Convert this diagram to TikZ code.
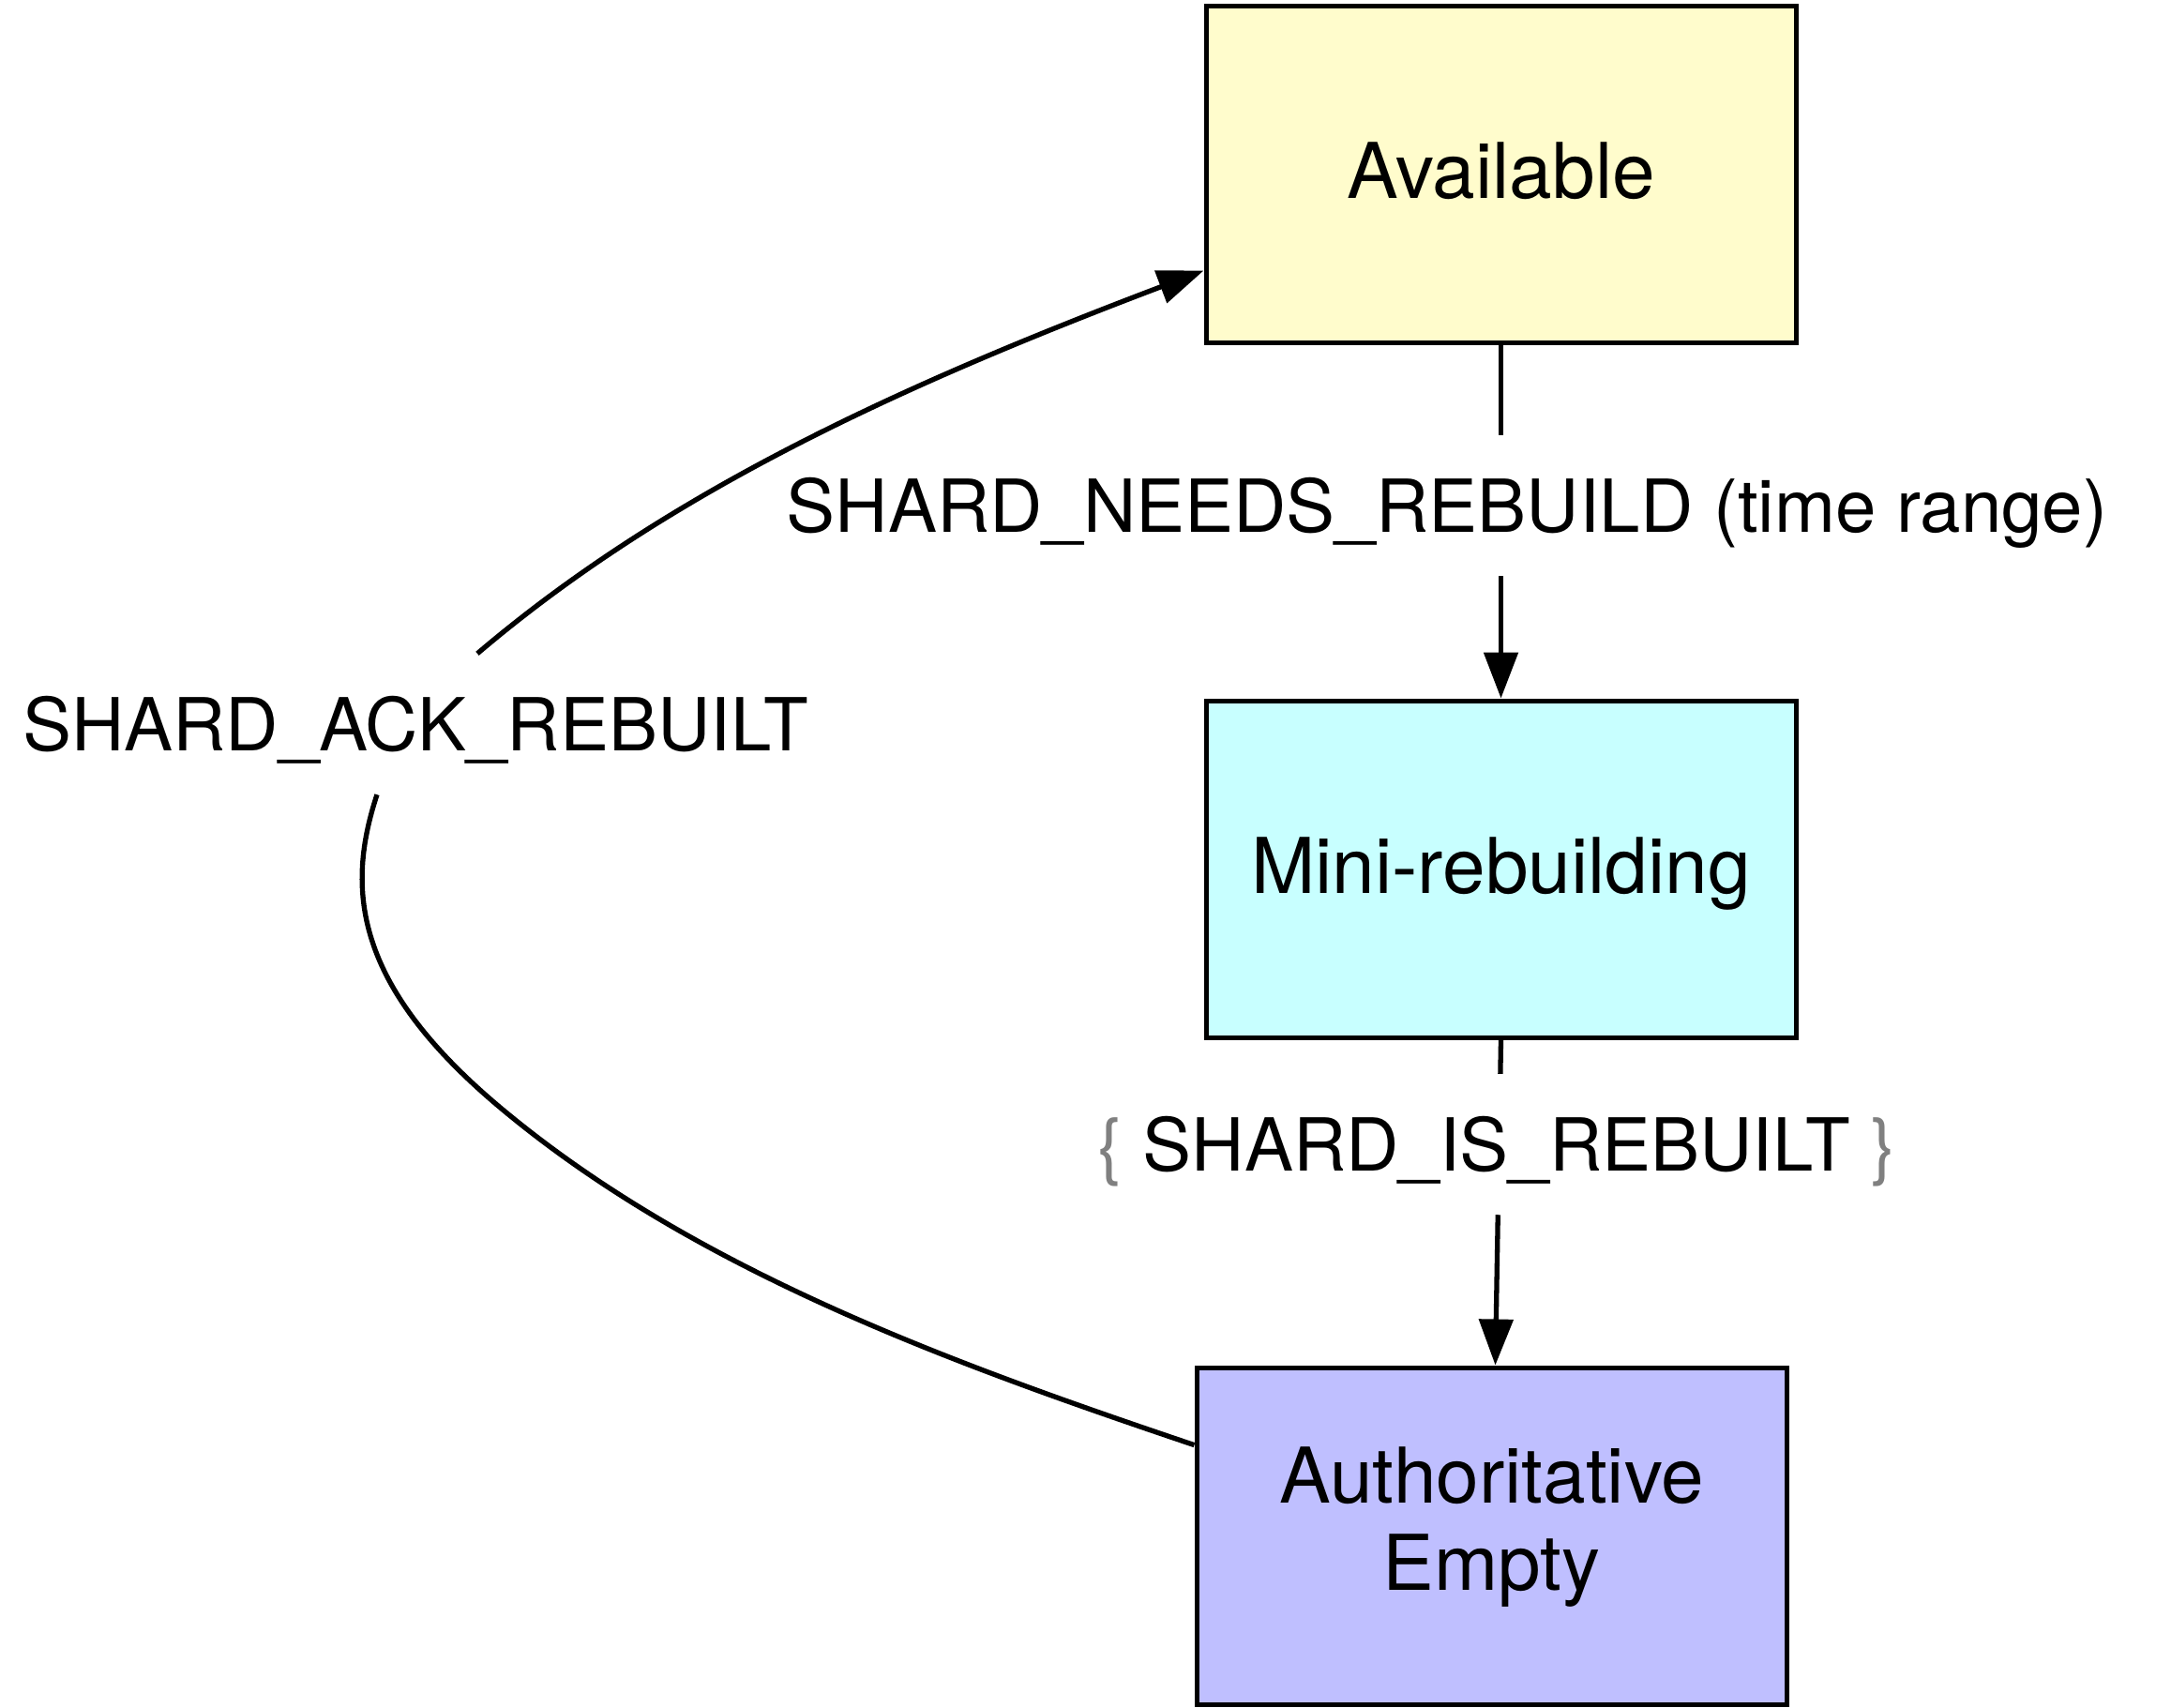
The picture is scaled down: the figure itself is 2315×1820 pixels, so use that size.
\documentclass[tikz,border=0pt]{standalone}
\usepackage{fontspec}
\setmainfont{TeX Gyre Heros}
\usetikzlibrary{arrows.meta,calc}
\definecolor{availfill}{RGB}{255,252,204}
\definecolor{minifill}{RGB}{200,255,255}
\definecolor{authfill}{RGB}{191,191,255}
\definecolor{bracegray}{RGB}{128,128,128}
\begin{document}
\begin{tikzpicture}[x=1pt,y=-1pt,
  state/.style={draw=black, line width=5pt, minimum width=629pt, minimum height=359pt,
    inner sep=0pt, align=center, text height=56pt, text depth=4pt,
    font=\fontsize{82}{93}\selectfont},
  lbl/.style={inner sep=0pt, minimum height=150pt, text height=56pt, text depth=0pt,
    font=\fontsize{78}{93}\selectfont},
  edge/.style={line width=5.3pt},
  arr/.style={-{Triangle[length=49pt,width=36pt]}}]
\useasboundingbox (0,0) rectangle (2315,1820);

\node[state, fill=availfill] (avail) at (1600.5,185.5) {Available};
\node[state, fill=minifill] (mini) at (1600.5,926.5) {Mini-rebuilding};
\node[state, fill=authfill, text height=149pt, text depth=34pt] (auth) at (1590.5,1637.5) {Authoritative\\Empty};

\node[lbl] (needs) at (1543,539) {SHARD\_NEEDS\_REBUILD (time range)};
\node[lbl] (isreb) at (1596,1220) {{\color{bracegray}\{} SHARD\_IS\_REBUILT {\color{bracegray}\}}};
\node[lbl] (ack) at (443,772) {SHARD\_ACK\_REBUILT};

% Available -> Mini-rebuilding
\draw[edge] (avail.south) -- ($(avail.south)!(needs.north)!(mini.north)$);
\draw[edge,arr] ($(avail.south)!(needs.south)!(mini.north)$) -- (mini.north);

% Mini-rebuilding -> Authoritative Empty
\coordinate (isend) at ($(auth.north)+(4,0)$);
\draw[edge] (mini.south) -- ($(mini.south)!(isreb.north)!(isend)$);
\draw[edge,arr] ($(mini.south)!(isreb.south)!(isend)$) -- (isend);

% Authoritative Empty -> Available
\coordinate (ackin) at ($(ack.south)+(-41,0)$);
\coordinate (ackout) at ($(ack.north)+(66,0)$);
\coordinate (lowmid) at (536,1183);
\draw[edge] (auth.163) .. controls +(-255,-86) and +(208,173) .. (lowmid)
  .. controls +(-160,-133) and +(-33,100) .. (ackin);
\draw[edge,arr] (ackout) .. controls +(200,-170) and +(-330,125) .. (avail.198.6);
\end{tikzpicture}
\end{document}
